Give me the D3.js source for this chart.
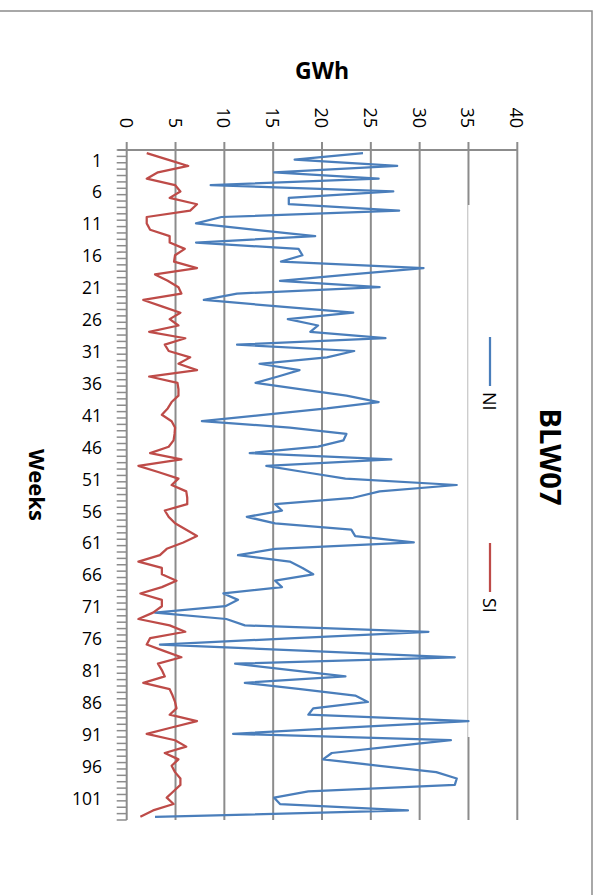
<!DOCTYPE html>
<html>
<head>
<meta charset="utf-8">
<script src="https://cdn.jsdelivr.net/npm/d3@7"></script>
<style>
  body { margin: 0; background: #fff; }
  svg { display: block; }
  text { font-family: "Open Sans", sans-serif; fill: #000; }
</style>
</head>
<body>
<svg id="chart" width="600" height="895"></svg>
<script>
// Weekly generation (GWh) for the two islands, week index 0..104
const weeks = d3.range(0, 105);
const weekTickLabels = [1, 6, 11, 16, 21, 26, 31, 36, 41, 46, 51, 56, 61, 66, 71, 76, 81, 86, 91, 96, 101];
const gwhTicks = [0, 5, 10, 15, 20, 25, 30, 35, 40];
const seriesNames = ["NI", "SI"];

const ni = [
  24.2, 17.2, 27.7, 15.1, 25.8, 8.6, 27.3, 16.6, 16.6, 27.9,
  9.7, 7.1, 13.2, 19.3, 7.1, 17.6, 18.0, 15.8, 30.4, 23.0,
  15.7, 25.9, 11.3, 7.9, 15.5, 23.2, 16.5, 19.6, 18.8, 26.5,
  11.3, 23.3, 20.5, 13.6, 17.7, 15.5, 13.2, 17.9, 22.5, 25.8,
  20.5, 14.0, 7.7, 16.7, 22.5, 22.2, 19.6, 12.6, 27.1, 14.3,
  18.3, 22.4, 33.8, 25.9, 23.2, 15.2, 15.9, 12.3, 15.2, 23.0,
  23.4, 29.4, 15.2, 11.4, 16.7, 18.0, 19.1, 15.2, 15.9, 9.9,
  11.4, 10.1, 2.9, 10.2, 12.1, 30.9, 17.2, 3.4, 18.5, 33.6,
  11.1, 16.8, 22.4, 12.1, 17.8, 23.4, 24.7, 19.1, 18.6, 35.0,
  22.9, 10.9, 33.2, 27.0, 21.0, 20.1, 25.9, 31.7, 33.8, 33.6,
  18.6, 15.1, 15.7, 28.8, 2.9
];

const si = [
  2.05, 4.2, 6.3, 3.2, 2.05, 4.95, 5.5, 4.4, 7.2, 6.5,
  2.05, 2.05, 2.4, 4.4, 4.4, 5.95, 4.95, 4.85, 7.2, 2.9,
  4.2, 5.3, 5.6, 1.7, 3.6, 5.5, 4.4, 5.3, 2.3, 6.0,
  3.9, 4.3, 6.5, 5.3, 7.2, 2.3, 5.2, 5.3, 5.3, 4.6,
  4.2, 3.6, 4.6, 4.95, 4.9, 4.8, 4.3, 2.4, 5.6, 1.2,
  3.3, 5.3, 4.6, 6.1, 6.2, 6.2, 3.9, 4.3, 4.95, 6.1,
  7.2, 5.8, 4.1, 3.4, 1.2, 3.6, 3.6, 5.1, 3.6, 1.4,
  3.6, 3.6, 2.7, 1.2, 4.4, 6.0, 2.4, 2.05, 3.8, 5.6,
  3.2, 3.6, 3.9, 1.7, 4.4, 4.7, 4.95, 5.1, 4.4, 7.2,
  4.6, 2.05, 4.95, 6.1, 3.9, 5.3, 4.6, 4.95, 5.5, 5.5,
  4.8, 4.1, 4.8, 2.7, 1.4
];

const colors = { NI: "#4a7ebb", SI: "#be4b48" };
const gridColor = "#8c8c8c";

const svg = d3.select("#chart");

// Plot area (chart is laid out with weeks running downward, GWh across)
const plot = { left: 126.7, right: 517.3, top: 150, bottom: 820 };

const x = d3.scaleLinear().domain([0, 40]).range([plot.left, plot.right]);
const y = d3.scaleBand().domain(weeks).range([plot.top, plot.bottom]).padding(0);
const bw = y.bandwidth();
const yc = k => y(k) + bw / 2;

// Outer chart frame
svg.append("path")
  .attr("d", `M0,11 H592 V895`)
  .attr("fill", "none")
  .attr("stroke", gridColor)
  .attr("stroke-width", 1.5);

// Value gridlines + outward tick marks
svg.append("g").selectAll("line")
  .data(gwhTicks.filter(d => d > 0))
  .join("line")
  .attr("x1", d => x(d)).attr("x2", d => x(d))
  .attr("y1", plot.top - 8).attr("y2", plot.bottom)
  .attr("stroke", gridColor).attr("stroke-width", 2);

// Value axis line (top)
svg.append("line")
  .attr("x1", plot.left - 9).attr("x2", plot.right)
  .attr("y1", plot.top).attr("y2", plot.top)
  .attr("stroke", gridColor).attr("stroke-width", 2);

// Category axis line
svg.append("line")
  .attr("x1", plot.left).attr("x2", plot.left)
  .attr("y1", plot.top - 8).attr("y2", plot.bottom)
  .attr("stroke", gridColor).attr("stroke-width", 2);

// Category tick marks at every band boundary
const boundaries = weeks.map(k => y(k)).concat([plot.bottom]);
svg.append("g").selectAll("line")
  .data(boundaries)
  .join("line")
  .attr("x1", plot.left - 10).attr("x2", plot.left)
  .attr("y1", d => d).attr("y2", d => d)
  .attr("stroke", gridColor).attr("stroke-width", 1.5);

// Value tick labels (rotated)
svg.append("g").selectAll("text")
  .data(gwhTicks)
  .join("text")
  .attr("transform", d => `translate(${x(d)},128) rotate(90)`)
  .attr("text-anchor", "end")
  .attr("dominant-baseline", "central")
  .attr("font-size", 18)
  .text(d => d);

// Week tick labels
svg.append("g").selectAll("text")
  .data(weekTickLabels)
  .join("text")
  .attr("x", 102)
  .attr("y", d => yc(d))
  .attr("text-anchor", "end")
  .attr("dominant-baseline", "central")
  .attr("font-size", 17.5)
  .text(d => d);

// Axis titles
svg.append("text")
  .attr("x", (plot.left + plot.right) / 2).attr("y", 70)
  .attr("text-anchor", "middle").attr("dominant-baseline", "central")
  .attr("font-size", 23).attr("font-weight", "bold")
  .text("GWh");

svg.append("text")
  .attr("transform", `translate(38,${(plot.top + plot.bottom) / 2}) rotate(90)`)
  .attr("text-anchor", "middle").attr("dominant-baseline", "central")
  .attr("font-size", 22).attr("font-weight", "bold")
  .text("Weeks");

// Chart title
svg.append("text")
  .attr("transform", `translate(551,457) rotate(90)`)
  .attr("text-anchor", "middle").attr("dominant-baseline", "central")
  .attr("font-size", 29).attr("font-weight", "bold")
  .text("BLW07");

// Legend box
const legend = svg.append("g");
legend.append("rect")
  .attr("x", 468).attr("y", 205).attr("width", 48).attr("height", 532)
  .attr("fill", "#fff");
legend.append("line")
  .attr("x1", 468).attr("x2", 468).attr("y1", 205).attr("y2", 737)
  .attr("stroke", "#d9d9d9").attr("stroke-width", 1);

const legendItems = [
  { name: seriesNames[0], y0: 337 },
  { name: seriesNames[1], y0: 543 }
];
legend.selectAll("line.key")
  .data(legendItems)
  .join("line")
  .attr("class", "key")
  .attr("x1", 490).attr("x2", 490)
  .attr("y1", d => d.y0).attr("y2", d => d.y0 + 49)
  .attr("stroke", d => colors[d.name]).attr("stroke-width", 2.25);
legend.selectAll("text")
  .data(legendItems)
  .join("text")
  .attr("transform", d => `translate(490,${d.y0 + 55}) rotate(90)`)
  .attr("text-anchor", "start").attr("dominant-baseline", "central")
  .attr("font-size", 18)
  .text(d => d.name);

// Series lines
const line = d3.line().x(d => x(d)).y((d, i) => yc(weeks[i]));
[["NI", ni], ["SI", si]].forEach(([name, vals]) => {
  svg.append("path")
    .datum(vals)
    .attr("d", line)
    .attr("fill", "none")
    .attr("stroke", colors[name])
    .attr("stroke-width", 2.25)
    .attr("stroke-linejoin", "round");
});
</script>
</body>
</html>
